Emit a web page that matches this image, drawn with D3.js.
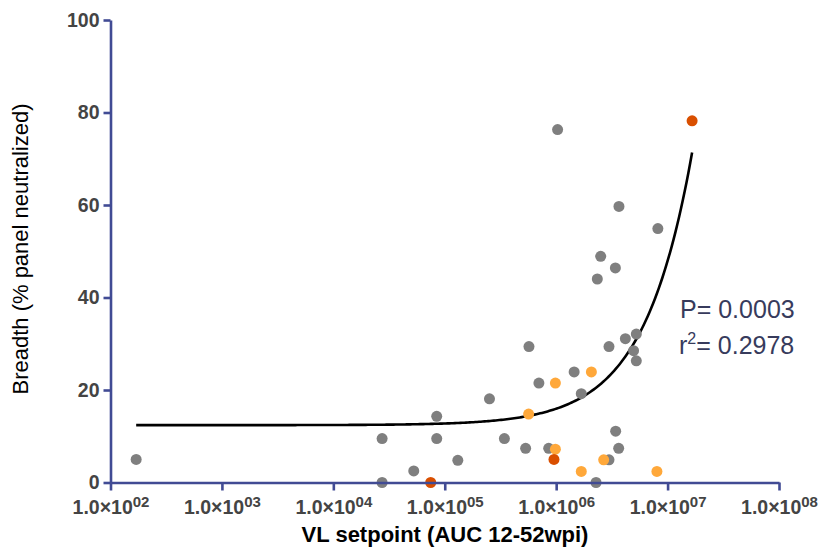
<!DOCTYPE html>
<html>
<head>
<meta charset="utf-8">
<script src="https://cdn.jsdelivr.net/npm/d3@7"></script>
<style>
  html, body { margin: 0; padding: 0; background: #ffffff; }
  svg { display: block; }
</style>
</head>
<body>
<svg id="chart" width="819" height="554"></svg>
<script>
// ---- data ----
const grayX = [170, 2.74e4, 2.74e4, 5.27e4, 8.47e4, 8.47e4, 1.31e5, 3.43e5, 2.52e5, 5.32e5,
               5.7e5, 7.0e5, 8.57e5, 1.03e6, 1.45e6, 1.68e6, 2.28e6, 2.34e6, 2.51e6, 2.98e6,
               2.98e6, 3.40e6, 3.42e6, 3.64e6, 3.66e6, 4.18e6, 4.95e6, 5.24e6, 5.24e6, 8.18e6];
const grayY = [5.0, 9.5, 0, 2.5, 14.3, 9.5, 4.8, 9.5, 18.1, 7.4,
               29.4, 21.5, 7.4, 76.3, 23.9, 19.2, 0, 44.0, 48.9, 29.4,
               4.9, 46.4, 11.1, 7.4, 59.7, 31.1, 28.5, 32.1, 26.3, 54.9];
const lightX = [5.66e5, 9.84e5, 9.84e5, 1.68e6, 2.07e6, 2.67e6, 8.02e6];
const lightY = [14.8, 21.5, 7.2, 2.4, 23.9, 4.9, 2.4];
const darkX = [7.48e4, 9.56e5, 1.66e7];
const darkY = [0, 5.0, 78.2];

const xTicks = [1e2, 1e3, 1e4, 1e5, 1e6, 1e7, 1e8];
const xTickExp = ["02", "03", "04", "05", "06", "07", "08"];
const yTicks = [0, 20, 40, 60, 80, 100];

// linear regression (fit line)
const fitIntercept = 12.4;
const fitSlope = 3.55e-6;
const annot = ["P= 0.0003", "0.2978"];

// ---- drawing ----
const svg = d3.select("#chart");
const axisColor = "#414b94";
const font = "Liberation Sans, Arial, sans-serif";
const x = d3.scaleLog().domain([1e2, 1e8]).range([110.5, 779]);
const y = d3.scaleLinear().domain([0, 100]).range([482.5, 20]);

// fit curve
const xmin = d3.min([...grayX, ...lightX, ...darkX]);
const xmax = d3.max([...grayX, ...lightX, ...darkX]);
const lmin = Math.log10(xmin), lmax = Math.log10(xmax);
const curvePts = d3.range(0, 301).map(i => {
  const xv = Math.pow(10, lmin + (lmax - lmin) * i / 300);
  return [xv, fitIntercept + fitSlope * xv];
});
svg.append("path")
  .datum(curvePts)
  .attr("fill", "none")
  .attr("stroke", "#000")
  .attr("stroke-width", 2.6)
  .attr("d", d3.line().x(d => x(d[0])).y(d => y(d[1])));

// points
function drawPts(xs, ys, color) {
  svg.append("g").selectAll("circle")
    .data(xs.map((v, i) => [v, ys[i]]))
    .join("circle")
    .attr("cx", d => x(d[0]))
    .attr("cy", d => y(d[1]))
    .attr("r", 5.5)
    .attr("fill", color);
}
drawPts(grayX, grayY, "#7f7f7f");
drawPts(lightX, lightY, "#ffa83a");
drawPts(darkX, darkY, "#d94f00");

// x axis
const gx = svg.append("g")
  .attr("transform", `translate(0,${y(0)})`)
  .call(d3.axisBottom(x).tickValues(xTicks).tickFormat(() => "").tickSize(8).tickSizeOuter(0));
gx.select(".domain").attr("stroke", axisColor).attr("stroke-width", 2.6);
gx.selectAll(".tick line").attr("stroke", axisColor).attr("stroke-width", 2.6);
gx.selectAll(".tick").each(function(d, i) {
  const t = d3.select(this).append("text")
    .attr("y", 31)
    .attr("text-anchor", "middle")
    .attr("fill", "#444444")
    .attr("font-family", font)
    .attr("font-weight", "bold")
    .attr("font-size", 19.5);
  t.append("tspan").text("1.0×10");
  t.append("tspan").attr("font-size", 15).attr("dy", -7).text(xTickExp[i]);
});

// y axis
const gy = svg.append("g")
  .attr("transform", `translate(${x(1e2)},0)`)
  .call(d3.axisLeft(y).tickValues(yTicks).tickSize(7).tickPadding(4).tickSizeOuter(0));
gy.select(".domain").attr("stroke", axisColor).attr("stroke-width", 2.6);
gy.selectAll(".tick line").attr("stroke", axisColor).attr("stroke-width", 2.6);
gy.selectAll(".tick text")
  .attr("fill", "#444444")
  .attr("font-family", font)
  .attr("font-weight", "bold")
  .attr("font-size", 19.5);

// axis titles
svg.append("text")
  .attr("x", 445).attr("y", 542)
  .attr("text-anchor", "middle")
  .attr("font-family", font)
  .attr("font-weight", "bold")
  .attr("font-size", 22)
  .attr("fill", "#000")
  .text("VL setpoint (AUC 12-52wpi)");

svg.append("text")
  .attr("transform", "translate(28,249) rotate(-90)")
  .attr("text-anchor", "middle")
  .attr("font-family", font)
  .attr("font-size", 22)
  .attr("fill", "#000")
  .text("Breadth (% panel neutralized)");

// annotation
const annColor = "#373b5c";
svg.append("text")
  .attr("x", 680).attr("y", 318)
  .attr("font-family", font)
  .attr("font-size", 25)
  .attr("fill", annColor)
  .text(annot[0]);
const r2 = svg.append("text")
  .attr("x", 679).attr("y", 354)
  .attr("font-family", font)
  .attr("font-size", 25)
  .attr("fill", annColor);
r2.append("tspan").text("r");
r2.append("tspan").attr("font-size", 16).attr("dy", -10).text("2");
r2.append("tspan").attr("dy", 10).text("= " + annot[1]);
</script>
</body>
</html>
